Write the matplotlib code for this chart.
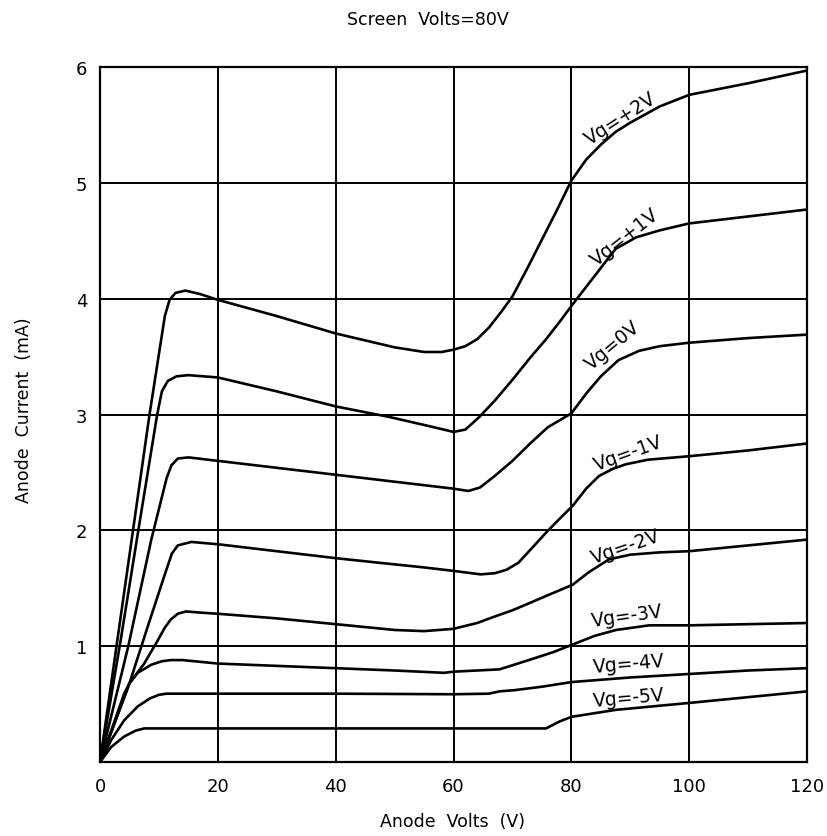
import matplotlib
matplotlib.use("Agg")
import matplotlib.pyplot as plt

# anode volts / anode current (mA) for each grid voltage
v_p2 = [0, 4, 8.4, 11, 11.8, 12.8, 14.5, 17, 20, 30, 40, 50, 55, 58, 60, 62, 64, 66, 68, 70,
        72.5, 75, 77.5, 80, 82.5, 85, 87.5, 90, 95, 100, 110, 120]
i_p2 = [0, 1.43, 3.0, 3.85, 3.99, 4.05, 4.07, 4.04, 3.99, 3.85, 3.70, 3.58, 3.54, 3.54, 3.56, 3.59,
        3.65, 3.75, 3.88, 4.02, 4.26, 4.51, 4.76, 5.02, 5.20, 5.33, 5.44, 5.52, 5.66, 5.76, 5.86, 5.97]

v_p1 = [0, 3.5, 6.5, 9.7, 10.5, 11.5, 13, 15, 20, 30, 40, 49, 55, 60, 62, 64.4, 67, 70, 73,
        75.7, 78, 80.2, 84, 87.5, 91, 95, 100, 110, 120]
i_p1 = [0, 1.05, 2.0, 3.0, 3.2, 3.29, 3.33, 3.34, 3.32, 3.20, 3.07, 2.98, 2.91, 2.85, 2.87, 2.98,
        3.12, 3.30, 3.49, 3.65, 3.80, 3.95, 4.20, 4.43, 4.53, 4.59, 4.65, 4.71, 4.77]

v_0 = [0, 4.8, 8.7, 11.3, 12.1, 13.2, 15, 20, 30, 40, 50, 60, 62.5, 64.5, 67, 70, 73, 76, 80,
       82.5, 85, 88, 91.5, 95, 100, 110, 120]
i_0 = [0, 1.0, 1.92, 2.45, 2.56, 2.62, 2.63, 2.60, 2.54, 2.48, 2.42, 2.36, 2.34, 2.37, 2.47, 2.60,
       2.75, 2.89, 3.01, 3.18, 3.33, 3.47, 3.55, 3.59, 3.62, 3.66, 3.69]

v_m1 = [0, 5, 8.1, 11, 12.2, 13.2, 15.5, 20, 30, 40, 47.4, 55, 60, 64.6, 67, 69, 71, 73, 75.7,
        78, 80.2, 82.5, 84.7, 87, 89.2, 93, 100, 110, 120]
i_m1 = [0, 0.68, 1.17, 1.62, 1.80, 1.87, 1.90, 1.88, 1.82, 1.76, 1.72, 1.68, 1.65, 1.62, 1.63,
        1.66, 1.72, 1.83, 1.98, 2.10, 2.21, 2.36, 2.47, 2.53, 2.57, 2.61, 2.64, 2.69, 2.75]

v_m2 = [0, 5, 7.5, 9.8, 11, 12, 13.2, 14.6, 17, 20, 30, 40, 50, 55, 60, 64, 67.2, 70, 72.8, 76,
        80.2, 83, 86.4, 90, 95, 100, 110, 120]
i_m2 = [0, 0.68, 0.85, 1.05, 1.16, 1.23, 1.28, 1.30, 1.29, 1.28, 1.24, 1.19, 1.14, 1.13, 1.15,
        1.20, 1.26, 1.31, 1.37, 1.44, 1.53, 1.64, 1.75, 1.79, 1.81, 1.82, 1.87, 1.92]

v_m3 = [0, 1.9, 4.1, 5, 6.4, 8.7, 10.5, 12, 14, 20, 30, 40, 50, 58.4, 60, 64, 67.8, 70.3, 74, 77,
        80, 84, 87.6, 93.2, 100, 110, 120]
i_m3 = [0, 0.27, 0.59, 0.68, 0.77, 0.84, 0.87, 0.88, 0.88, 0.85, 0.83, 0.81, 0.79, 0.77, 0.78,
        0.79, 0.80, 0.84, 0.90, 0.95, 1.01, 1.09, 1.14, 1.18, 1.18, 1.19, 1.20]

v_m4 = [0, 1.9, 4.1, 6.4, 8.5, 10, 11.3, 13, 20, 40, 60, 66, 67.8, 70.3, 75, 80, 90, 100, 110, 120]
i_m4 = [0, 0.19, 0.36, 0.48, 0.55, 0.58, 0.59, 0.59, 0.59, 0.59, 0.585, 0.59, 0.61, 0.62, 0.65,
        0.69, 0.73, 0.76, 0.79, 0.81]

v_m5 = [0, 1.9, 4.1, 6, 7.5, 9, 20, 40, 60, 70, 75.7, 78, 80, 87.5, 100, 110, 120]
i_m5 = [0, 0.13, 0.22, 0.27, 0.29, 0.29, 0.29, 0.29, 0.29, 0.29, 0.29, 0.35, 0.39, 0.45, 0.51,
        0.56, 0.61]

curves = [(v_p2, i_p2), (v_p1, i_p1), (v_0, i_0), (v_m1, i_m1),
          (v_m2, i_m2), (v_m3, i_m3), (v_m4, i_m4), (v_m5, i_m5)]

labels = ["Vg=+2V", "Vg=+1V", "Vg=0V", "Vg=-1V", "Vg=-2V", "Vg=-3V", "Vg=-4V", "Vg=-5V"]
label_x = [88.4, 89.1, 87.0, 89.7, 89.3, 89.5, 89.7, 89.7]
label_y = [5.56, 4.54, 3.60, 2.67, 1.86, 1.26, 0.85, 0.56]
label_rot = [33, 38, 40, 20, 19, 8, 5, 5]

fig = plt.figure(figsize=(8.28, 8.37), dpi=100)
ax = fig.add_axes([0.1208, 0.0884, 0.8539, 0.8303])

for v, i in curves:
    ax.plot(v, i, color="black", lw=1.9, solid_capstyle="round", solid_joinstyle="round")

for txt, x, y, r in zip(labels, label_x, label_y, label_rot):
    ax.text(x, y, txt, rotation=r, ha="center", va="center", fontsize=13.5,
            rotation_mode="anchor")

ax.set_xlim(0, 120)
ax.set_ylim(0, 6)
ax.set_xticks([0, 20, 40, 60, 80, 100, 120])
ax.set_yticks([1, 2, 3, 4, 5, 6])
ax.grid(True, color="black", lw=1.4)
ax.tick_params(length=0, labelsize=13)
ax.tick_params(axis="x", pad=11)
ax.tick_params(axis="y", pad=9)
for s in ax.spines.values():
    s.set_linewidth(1.6)

fig.text(0.546, 1 - 822 / 837, "Anode  Volts  (V)", ha="center", va="center", fontsize=12.5)
fig.text(24 / 828, 1 - 410 / 837, "Anode  Current  (mA)", ha="center", va="center",
         rotation=90, fontsize=12.5)
fig.text(0.517, 1 - 20 / 837, "Screen  Volts=80V", ha="center", va="center", fontsize=12.5)

fig.savefig("out.png", dpi=100)
